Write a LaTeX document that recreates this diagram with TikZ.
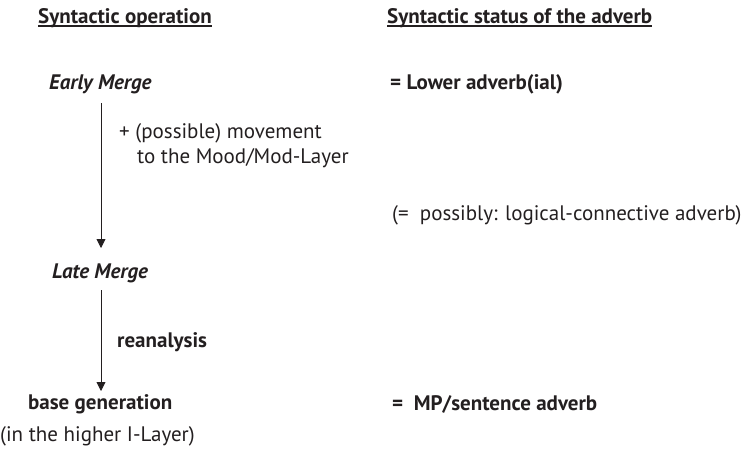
\documentclass[tikz,border=0pt]{standalone}
\usepackage{fontspec}
\setmainfont{PT Sans}
\usetikzlibrary{arrows.meta}
\definecolor{ink}{HTML}{231F20}
\tikzset{
  txt/.style={anchor=base west, inner sep=0pt, text=ink, font=\fontsize{21}{24}\selectfont},
  hd/.style={txt, font=\fontsize{21}{24}\selectfont\bfseries},
  op/.style={txt, font=\fontsize{21}{24}\selectfont\bfseries\itshape},
  rule/.style={draw=ink, line width=1.1pt},
  flow/.style={draw=ink, line width=0.9pt, -{Triangle[width=9pt,length=9pt]}}
}
\begin{document}
\begin{tikzpicture}[x=1pt,y=-1pt]
\useasboundingbox (0,0) rectangle (742,451);
% column headings, underlined just below the baseline
\node[hd] (h1) at (38,23) {Syntactic operation};
\node[hd] (h2) at (387,23) {Syntactic status of the adverb};
\draw[rule] ([yshift=-3pt]h1.base west) -- ([yshift=-3pt]h1.base east);
\draw[rule] ([yshift=-3pt]h2.base west) -- ([yshift=-3pt]h2.base east);
% left column: operations
\node[op] (early) at (49,89) {Early Merge};
\node[op] (late) at (52,278) {Late Merge};
\node[hd] (base) at (28,409) {base generation};
\node[txt] (layer) at (0,441) {(in the higher I-Layer)};
% right column: status
\node[hd] (lower) at (390,89) {= Lower adverb(ial)};
\node[txt] (logic) at (392,220) {(=\ \ possibly: logical-connective adverb)};
\node[hd] (mp) at (392,410) {=\ \ MP/sentence adverb};
% arrow labels
\node[txt] (mv1) at (119,138) {+ (possible) movement};
\node[txt] (mv2) at (137,163) {to the Mood/Mod-Layer};
\node[hd] (rean) at (117,347) {reanalysis};
% arrows
\coordinate (a1s) at (101,103);
\coordinate (a1e) at (101,248);
\coordinate (a2s) at (101,290);
\coordinate (a2e) at (101,391);
\draw[flow] (a1s) -- (a1e);
\draw[flow] (a2s) -- (a2e);
\end{tikzpicture}
\end{document}
